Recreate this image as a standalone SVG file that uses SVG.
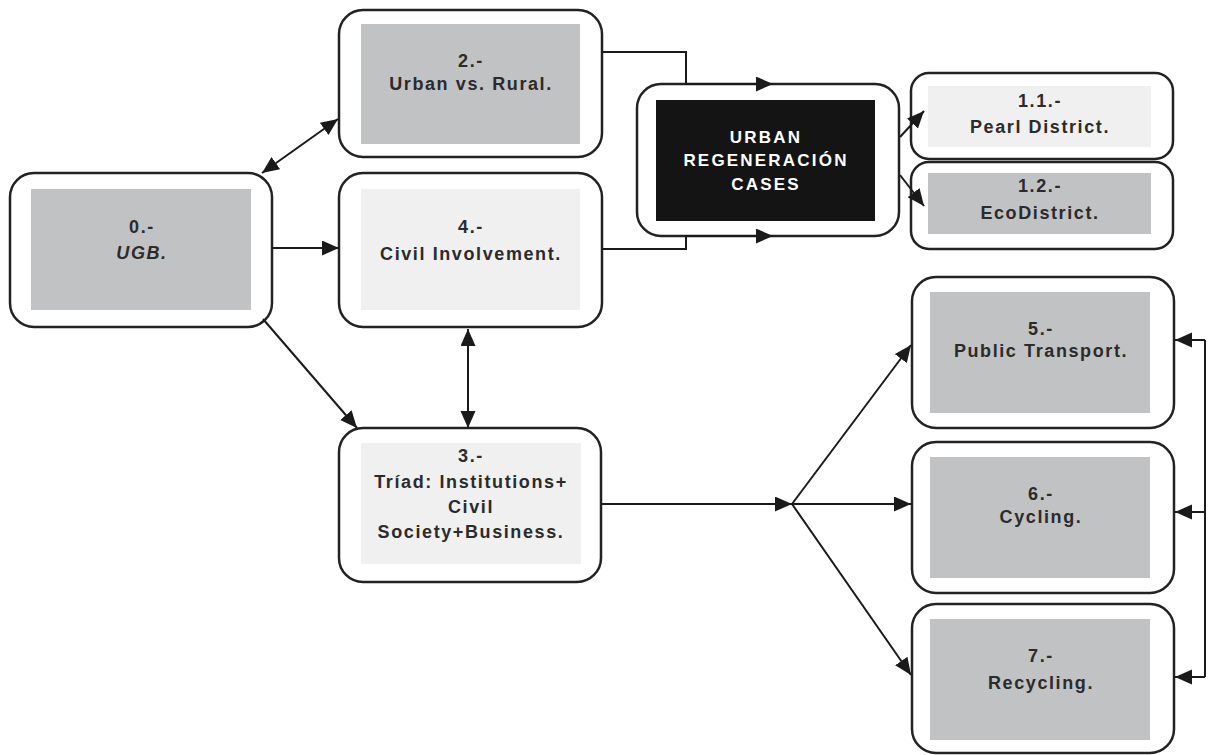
<svg xmlns="http://www.w3.org/2000/svg" width="1209" height="755" viewBox="0 0 1209 755">
<defs>
<marker id="ah" markerUnits="userSpaceOnUse" markerWidth="19" markerHeight="16" refX="17" refY="7.5" orient="auto-start-reverse">
<path d="M0,0 L17,7.5 L0,15 z" fill="#1a1a1a"/>
</marker>
</defs>
<style>
.outer{fill:#fff;stroke:#222;stroke-width:2.5}
.gray{fill:#c1c2c4}
.light{fill:#f0f0f0}
.dark{fill:#141414}
.t{font-family:"Liberation Sans",Arial,sans-serif;font-weight:bold;font-size:18px;letter-spacing:1.6px;fill:#2b2b2b;text-anchor:middle}
.w{fill:#fff;font-size:17px;letter-spacing:2.2px}
.c{fill:none;stroke:#1a1a1a;stroke-width:2}
.a{marker-end:url(#ah)}
.b{marker-start:url(#ah);marker-end:url(#ah)}
</style>
<rect width="1209" height="755" fill="#fff"/>
<g id="n0">
<rect class="outer" x="10" y="173" width="262" height="154" rx="24"/>
<rect class="gray" x="31" y="189" width="220" height="121"/>
<text class="t" x="142" y="233">0.-</text>
<text class="t" x="142" y="259" font-style="italic">UGB.</text>
</g>
<g id="n2">
<rect class="outer" x="339" y="10" width="263" height="147" rx="24"/>
<rect class="gray" x="361" y="24" width="219" height="120"/>
<text class="t" x="471" y="67">2.-</text>
<text class="t" x="471" y="90">Urban vs. Rural.</text>
</g>
<g id="n4">
<rect class="outer" x="339" y="173" width="263" height="154" rx="24"/>
<rect class="light" x="361" y="189" width="219" height="121"/>
<text class="t" x="471" y="233">4.-</text>
<text class="t" x="471" y="260">Civil Involvement.</text>
</g>
<g id="n3">
<rect class="outer" x="339" y="428" width="262" height="154" rx="24"/>
<rect class="light" x="361" y="443" width="220" height="121"/>
<text class="t" x="471" y="462">3.-</text>
<text class="t" x="471" y="488">Tríad: Institutions+</text>
<text class="t" x="471" y="513">Civil</text>
<text class="t" x="471" y="538">Society+Business.</text>
</g>
<g id="urban">
<rect class="outer" x="637" y="84" width="262" height="152" rx="24"/>
<rect class="dark" x="656" y="100" width="219" height="121"/>
<text class="t w" x="766" y="143">URBAN</text>
<text class="t w" x="766" y="166">REGENERACIÓN</text>
<text class="t w" x="766" y="190">CASES</text>
</g>
<g id="n11">
<rect class="outer" x="911" y="73" width="262" height="86" rx="18"/>
<rect class="light" x="928" y="86" width="223" height="61"/>
<text class="t" x="1040" y="107">1.1.-</text>
<text class="t" x="1040" y="133">Pearl District.</text>
</g>
<g id="n12">
<rect class="outer" x="911" y="162" width="262" height="87" rx="18"/>
<rect class="gray" x="928" y="173" width="223" height="61"/>
<text class="t" x="1040" y="192">1.2.-</text>
<text class="t" x="1040" y="219">EcoDistrict.</text>
</g>
<g id="n5">
<rect class="outer" x="912" y="277" width="262" height="151" rx="24"/>
<rect class="gray" x="930" y="292" width="220" height="121"/>
<text class="t" x="1041" y="335">5.-</text>
<text class="t" x="1041" y="357">Public Transport.</text>
</g>
<g id="n6">
<rect class="outer" x="912" y="442" width="262" height="151" rx="24"/>
<rect class="gray" x="930" y="457" width="220" height="121"/>
<text class="t" x="1041" y="500">6.-</text>
<text class="t" x="1041" y="523">Cycling.</text>
</g>
<g id="n7">
<rect class="outer" x="912" y="604" width="262" height="149" rx="24"/>
<rect class="gray" x="930" y="619" width="220" height="121"/>
<text class="t" x="1041" y="662">7.-</text>
<text class="t" x="1041" y="689">Recycling.</text>
</g>
<g id="connectors">
<path class="c a" d="M272,248 L339,248"/>
<path class="c b" d="M262,173 L338,119"/>
<path class="c a" d="M263,319 L357,428"/>
<path class="c b" d="M468,329 L468,428"/>
<path class="c a" d="M602,52 L686,52 L686,84 L773,84"/>
<path class="c a" d="M602,249 L686,249 L686,236 L773,236"/>
<path class="c a" d="M900,137 L924,111"/>
<path class="c a" d="M900,175 L924,206"/>
<path class="c a" d="M601,504 L792,504"/>
<path class="c a" d="M792,504 L911,345"/>
<path class="c a" d="M792,504 L911,504"/>
<path class="c a" d="M792,504 L911,675"/>
<path class="c" d="M1205,340 L1205,677"/>
<path class="c a" d="M1205,340 L1175,340"/>
<path class="c a" d="M1205,512 L1175,512"/>
<path class="c a" d="M1205,677 L1175,677"/>
</g>
</svg>
